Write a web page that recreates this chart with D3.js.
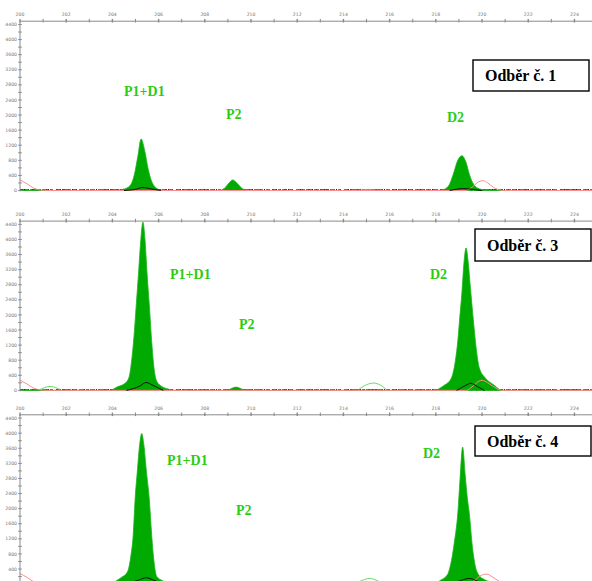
<!DOCTYPE html>
<html>
<head>
<meta charset="utf-8">
<script src="https://cdn.jsdelivr.net/npm/d3@7"></script>
<style>
  body { margin: 0; background: #fff; }
  svg { display: block; }
</style>
</head>
<body>
<svg id="canvas"></svg>
<script>
// size axis (bp) and signal axis (RFU)
const xTicks = [200, 201, 202, 203, 204, 205, 206, 207, 208, 209, 210, 211, 212, 213, 214, 215, 216, 217, 218, 219, 220, 221, 222, 223, 224]
const xLabels = [200, 202, 204, 206, 208, 210, 212, 214, 216, 218, 220, 222, 224]
const yTicks = [0, 200, 400, 600, 800, 1000, 1200, 1400, 1600, 1800, 2000, 2200, 2400, 2600, 2800, 3000, 3200, 3400, 3600, 3800, 4000, 4200, 4400]
const yLabels = [0, 400, 800, 1200, 1600, 2000, 2400, 2800, 3200, 3600, 4000, 4400]

const sampleNames = ['Odběr č. 1', 'Odběr č. 3', 'Odběr č. 4']
const peakNames = ['P1+D1', 'P2', 'D2']

// main (green, filled) trace per sample: [bp, rfu]
const green1 = [[200, 0], [204.0, 0], [204.3, 15], [204.6, 60], [204.8, 160], [204.95, 420], [205.1, 900], [205.24, 1365], [205.4, 1050], [205.55, 560], [205.7, 240], [205.85, 90], [206.05, 20], [206.3, 0],
  [208.6, 0], [208.85, 60], [209.05, 200], [209.2, 280], [209.4, 190], [209.6, 60], [209.85, 0],
  [218.0, 0], [218.3, 20], [218.55, 120], [218.75, 420], [218.95, 800], [219.13, 922], [219.3, 760], [219.45, 430], [219.65, 150], [219.9, 40], [220.3, 0], [224.8, 0]]
const green3 = [[200, 0], [203.9, 0], [204.2, 90], [204.55, 190], [204.72, 350], [204.83, 775], [204.93, 1400], [205.03, 2240], [205.13, 3100], [205.23, 4000], [205.32, 4460], [205.41, 4000], [205.5, 3100], [205.6, 2240], [205.7, 1300], [205.8, 600], [205.92, 240], [206.15, 100], [206.4, 40], [206.6, 0],
  [208.95, 0], [209.15, 50], [209.35, 88], [209.55, 50], [209.75, 0],
  [217.9, 0], [218.34, 125], [218.65, 300], [218.85, 800], [218.95, 1300], [219.03, 1890], [219.13, 2600], [219.22, 3400], [219.31, 3775], [219.4, 3400], [219.5, 2700], [219.62, 1890], [219.75, 1100], [219.88, 600], [220.14, 330], [220.5, 150], [220.87, 0], [224.8, 0]]
const green4 = [[200, 0], [203.9, 0], [204.15, 80], [204.4, 180], [204.65, 320], [204.8, 750], [204.9, 1300], [204.98, 2220], [205.08, 3000], [205.18, 3700], [205.27, 3990], [205.36, 3700], [205.47, 3000], [205.6, 2220], [205.7, 1300], [205.8, 600], [205.92, 200], [206.2, 80], [206.5, 0],
  [209.0, 0], [209.2, 30], [209.35, 50], [209.5, 30], [209.7, 0],
  [217.9, 0], [218.2, 100], [218.5, 250], [218.7, 700], [218.8, 1100], [218.95, 1867], [219.05, 2800], [219.16, 3630], [219.27, 2900], [219.36, 2300], [219.45, 1867], [219.58, 1000], [219.7, 500], [219.85, 250], [220.1, 120], [220.5, 40], [220.8, 0], [224.8, 0]]

// black trace, only the stretches that rise off the baseline
const black1 = [[[204.5, 0], [205.0, 30], [205.3, 80], [205.7, 40], [206.1, 0]], [[218.6, 0], [219.2, 50], [219.6, 30], [220.0, 0]]]
const black3 = [[[204.6, 0], [205.2, 120], [205.45, 210], [205.8, 120], [206.2, 0]], [[218.9, 0], [219.35, 150], [219.5, 190], [219.8, 100], [220.1, 0]]]
const black4 = [[[204.6, 0], [205.2, 120], [205.45, 170], [205.8, 100], [206.2, 0]], [[218.7, 0], [219.2, 120], [219.45, 150], [219.8, 80], [220.1, 0]]]

// red (size standard) trace
const red1 = [[200, 280], [200.3, 180], [200.6, 60], [200.9, 10], [201.2, 0], [219.3, 0], [219.6, 100], [219.85, 230], [220.05, 260], [220.25, 200], [220.5, 80], [220.8, 10], [221.0, 0], [224.8, 0]]
const red3 = [[200, 270], [200.3, 170], [200.6, 60], [200.9, 10], [201.2, 0], [219.3, 0], [219.6, 110], [219.85, 240], [220.0, 270], [220.25, 200], [220.55, 80], [220.87, 0], [224.8, 0]]
const red4 = [[200, 280], [200.3, 180], [200.6, 60], [200.9, 10], [201.2, 0], [219.4, 0], [219.7, 110], [219.95, 230], [220.2, 265], [220.45, 190], [220.75, 70], [221.0, 0], [224.8, 0]]

// thin green trace
const lime1 = [[[214.6, 0], [215.06, 30], [215.5, 0]]]
const lime3 = [[[200.8, 0], [201.3, 105], [201.8, 0]], [[214.6, 0], [215.0, 150], [215.3, 195], [215.6, 140], [215.9, 0]]]
const lime4 = [[[200.8, 0], [201.3, 60], [201.8, 0]], [[214.5, 0], [214.9, 120], [215.1, 150], [215.4, 110], [215.7, 0]]]

const panels = [
  { top: 20.7, name: sampleNames[0], green: green1, black: black1, red: red1, lime: lime1,
    box: [473, 60, 116, 31], labels: [[124, 95.5], [226, 119], [447, 121.5]] },
  { top: 220.6, name: sampleNames[1], green: green3, black: black3, red: red3, lime: lime3,
    box: [475, 229, 116, 32], labels: [[170, 279], [239, 329], [430, 279]] },
  { top: 414.3, name: sampleNames[2], green: green4, black: black4, red: red4, lime: lime4,
    box: [475, 426, 116, 30], labels: [[167, 465], [236, 515], [423, 458]] }
]

let width = 592
let height = 581
let left = 20
let panelH = 169.8

let svg = d3.select('#canvas')
svg.attr('width', width)
svg.attr('height', height)

let xScale = d3.scaleLinear()
  .domain([200, 224.76])
  .range([left, width])

panels.forEach((p, i) => {
  let yScale = d3.scaleLinear()
    .domain([0, 4500])
    .range([p.top + panelH, p.top])

  let g = svg.append('g')

  // clip to plot area
  g.append('clipPath')
    .attr('id', 'clip' + i)
    .append('rect')
    .attr('x', left)
    .attr('y', p.top)
    .attr('width', width - left)
    .attr('height', panelH + 1)

  let plot = g.append('g').attr('clip-path', 'url(#clip' + i + ')')

  let area = d3.area()
    .x(d => xScale(d[0]))
    .y0(yScale(0))
    .y1(d => yScale(d[1]))
    .curve(d3.curveMonotoneX)

  let line = d3.line()
    .x(d => xScale(d[0]))
    .y(d => yScale(d[1]))
    .curve(d3.curveMonotoneX)

  // baseline dashes in the dye colours
  let base = [[200, 0], [224.8, 0]]
  let dashes = [['#3a3ad0', '3,3'], ['#b040d0', '2,6'], ['#e04848', '2,5'], ['#30a030', '2,9'], ['#222', '1,11']]
  dashes.forEach((d, j) => {
    plot.append('path')
      .datum(base)
      .attr('d', line)
      .attr('fill', 'none')
      .attr('stroke', d[0])
      .attr('stroke-width', 1.6)
      .attr('stroke-dasharray', d[1])
      .attr('stroke-dashoffset', j * 2)
      .attr('transform', 'translate(0,-0.6)')
  })

  plot.selectAll('.lime')
    .data(p.lime)
    .enter()
    .append('path')
    .attr('d', line)
    .attr('fill', 'none')
    .attr('stroke', '#55d655')
    .attr('stroke-width', 0.9)

  plot.append('path')
    .datum(p.green)
    .attr('d', area)
    .attr('fill', '#00aa00')
    .attr('stroke', '#1cb41c')
    .attr('stroke-width', 0.8)

  plot.append('path')
    .datum(p.red)
    .attr('d', line)
    .attr('fill', 'none')
    .attr('stroke', '#ff8c8c')
    .attr('stroke-width', 1)

  plot.selectAll('.black')
    .data(p.black)
    .enter()
    .append('path')
    .attr('d', line)
    .attr('fill', 'none')
    .attr('stroke', '#111')
    .attr('stroke-width', 1)

  // top axis
  let xAxis = d3.axisTop(xScale)
    .tickValues(xTicks)
    .tickSize(0)
    .tickFormat('')
  g.append('g')
    .attr('transform', 'translate(0,' + p.top + ')')
    .call(xAxis)
    .call(a => a.select('.domain').attr('stroke', '#8a8a8a'))

  g.selectAll('.xt' + i)
    .data(xTicks)
    .enter()
    .append('line')
    .attr('x1', d => xScale(d))
    .attr('x2', d => xScale(d))
    .attr('y1', p.top - 1.8)
    .attr('y2', p.top + 1.8)
    .attr('stroke', '#8a8a8a')
    .attr('stroke-width', d => d % 2 === 0 ? 1.4 : 1)

  g.selectAll('.xl' + i)
    .data(xLabels)
    .enter()
    .append('text')
    .attr('x', d => xScale(d))
    .attr('y', p.top - 4.5)
    .attr('text-anchor', 'middle')
    .attr('font-family', 'DejaVu Sans')
    .attr('font-size', 4.6)
    .attr('fill', '#777')
    .text(d => d)

  // left axis
  g.append('line')
    .attr('x1', left)
    .attr('x2', left)
    .attr('y1', p.top)
    .attr('y2', Math.min(yScale(0) + 1, height))
    .attr('stroke', '#8a8a8a')

  g.selectAll('.yt' + i)
    .data(yTicks)
    .enter()
    .append('line')
    .attr('x1', left - 1.8)
    .attr('x2', left + 1.8)
    .attr('y1', d => yScale(d))
    .attr('y2', d => yScale(d))
    .attr('stroke', '#8a8a8a')

  // labels that would fall past the bottom edge are left out, as in the original crop
  g.selectAll('.yl' + i)
    .data(yLabels.filter(d => yScale(d) + 2 < height))
    .enter()
    .append('text')
    .attr('x', left - 3)
    .attr('y', d => yScale(d) + 1.6)
    .attr('text-anchor', 'end')
    .attr('font-family', 'DejaVu Sans')
    .attr('font-size', 4.6)
    .attr('fill', '#777')
    .text(d => d)

  // peak names
  p.labels.forEach((pos, j) => {
    g.append('text')
      .attr('x', pos[0])
      .attr('y', pos[1])
      .attr('font-family', 'Liberation Serif')
      .attr('font-weight', 'bold')
      .attr('font-size', 14)
      .attr('fill', '#2ccc10')
      .text(peakNames[j])
  })

  // sample box
  g.append('rect')
    .attr('x', p.box[0])
    .attr('y', p.box[1])
    .attr('width', p.box[2])
    .attr('height', p.box[3])
    .attr('fill', '#fff')
    .attr('stroke', '#000')
    .attr('stroke-width', 1.4)

  g.append('text')
    .attr('x', p.box[0] + 12)
    .attr('y', p.box[1] + p.box[3] / 2 + 5.5)
    .attr('font-family', 'Liberation Serif')
    .attr('font-weight', 'bold')
    .attr('font-size', 16)
    .attr('fill', '#000')
    .text(p.name)
})
</script>
</body>
</html>
